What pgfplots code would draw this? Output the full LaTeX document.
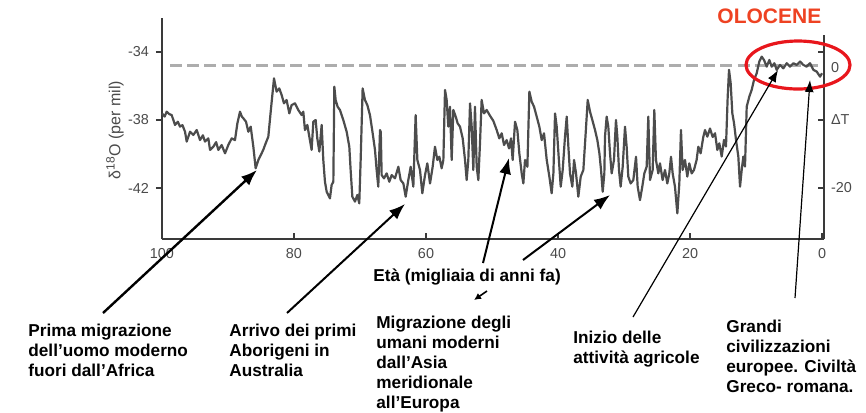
\documentclass[border=0pt]{standalone}
\usepackage{pgfplots}
\pgfplotsset{compat=1.18}
\usepackage{fontspec}
\setmainfont{Liberation Sans}
\usetikzlibrary{arrows.meta}
\definecolor{curve}{HTML}{4C4C4C}
\definecolor{axgray}{HTML}{3A3A3A}
\definecolor{tickgray}{HTML}{4A4A4A}
\definecolor{dashgray}{HTML}{ADADAD}
\definecolor{olored}{HTML}{EE4222}
\definecolor{ellred}{HTML}{E8161C}
\pgfplotstableread{
x y
100.0 -37.61
99.6 -37.80
99.29 -37.51
98.9 -37.65
98.53 -37.71
98.03 -38.29
97.6 -38.10
97.27 -38.39
96.9 -38.30
96.51 -38.69
96.26 -39.27
95.75 -38.69
95.25 -38.88
94.74 -38.59
94.24 -39.18
93.8 -38.90
93.48 -39.27
92.98 -39.08
92.72 -39.76
92.22 -39.57
91.8 -39.30
91.46 -39.76
90.96 -39.47
90.45 -39.96
89.95 -39.47
89.44 -39.08
88.94 -39.18
88.58 -38.20
88.18 -37.51
87.9 -37.80
87.67 -37.90
87.27 -38.10
86.92 -38.69
86.56 -38.39
86.16 -39.57
85.81 -40.84
85.40 -40.35
84.90 -39.96
84.6 -39.70
84.39 -39.47
83.89 -38.98
83.48 -37.31
83.03 -35.55
82.63 -36.33
82.23 -36.14
81.87 -36.53
81.52 -37.02
81.12 -36.82
80.71 -37.61
80.36 -37.12
79.85 -37.02
79.35 -37.41
78.84 -37.71
78.59 -37.51
78.34 -38.59
77.98 -38.29
77.68 -38.98
77.33 -39.76
77.07 -38.10
76.72 -38.00
76.47 -39.08
76.16 -39.86
75.81 -38.29
75.56 -40.35
75.31 -41.63
75.05 -42.22
74.80 -42.41
74.55 -42.61
74.30 -41.82
74.04 -41.63
73.89 -36.04
73.69 -36.82
73.39 -37.22
73.04 -37.41
72.53 -38.00
72.02 -38.69
71.62 -39.57
71.42 -40.94
71.16 -42.51
70.76 -42.80
70.41 -42.41
70.11 -42.90
69.90 -40.35
69.60 -36.14
69.25 -36.82
68.89 -37.12
68.49 -37.71
68.08 -38.78
67.73 -39.76
67.48 -40.94
67.23 -41.92
66.97 -38.59
66.85 -38.70
66.72 -41.24
66.36 -41.43
65.96 -41.14
65.56 -41.63
65.20 -41.24
64.70 -41.43
64.19 -40.75
63.84 -41.53
63.43 -41.73
63.08 -42.51
62.68 -41.53
62.32 -40.75
61.92 -41.92
61.57 -37.71
61.31 -40.35
60.91 -40.94
60.56 -42.31
60.15 -41.24
59.80 -40.55
59.39 -41.73
58.99 -40.75
58.64 -39.57
58.28 -40.35
57.98 -40.16
57.63 -40.84
57.37 -40.35
57.12 -36.23
56.87 -36.82
56.62 -38.39
56.36 -37.22
56.11 -40.35
55.86 -37.41
55.50 -37.80
55.20 -38.20
54.85 -38.39
54.44 -39.08
54.09 -40.35
53.84 -41.53
53.59 -40.35
53.33 -37.02
53.08 -38.39
52.83 -40.94
52.58 -37.22
52.32 -40.75
52.07 -41.53
51.82 -39.37
51.57 -36.82
51.21 -37.61
50.81 -37.41
50.30 -37.75
49.80 -38.05
49.29 -38.59
48.89 -39.08
48.53 -38.78
48.18 -39.47
47.78 -39.18
47.42 -39.67
47.12 -39.08
46.87 -40.35
46.51 -38.10
46.16 -38.59
45.86 -39.96
45.50 -41.14
45.25 -41.73
45.00 -40.35
44.64 -40.75
44.34 -36.33
43.99 -36.92
43.63 -37.22
43.23 -37.80
42.83 -38.39
42.47 -39.18
42.12 -38.78
41.71 -40.35
41.31 -41.33
40.96 -42.31
40.70 -41.14
40.45 -37.61
40.20 -38.39
39.90 -40.16
39.59 -41.92
39.29 -40.94
38.94 -38.98
38.68 -37.80
38.43 -39.57
38.18 -41.14
37.83 -41.92
37.57 -40.35
37.27 -41.14
36.92 -42.51
36.56 -41.33
36.16 -40.94
35.81 -38.78
35.50 -36.82
35.15 -37.51
34.80 -38.00
34.39 -38.59
34.04 -39.18
33.73 -39.96
33.48 -40.94
33.23 -42.22
32.98 -41.14
32.88 -38.98
32.63 -37.80
32.38 -38.39
32.12 -39.96
31.87 -41.14
31.52 -40.35
31.22 -38.00
31.01 -38.98
30.76 -40.94
30.51 -41.92
30.20 -40.75
29.85 -38.39
29.60 -39.57
29.35 -41.33
28.99 -41.73
28.59 -41.53
28.18 -40.16
27.93 -41.92
27.58 -42.71
27.23 -41.92
26.92 -41.14
26.57 -40.75
26.32 -37.80
26.06 -41.53
25.66 -40.94
25.41 -37.41
25.16 -40.35
24.80 -41.14
24.55 -40.55
24.15 -41.53
23.79 -40.94
23.44 -41.73
23.14 -41.14
22.88 -40.16
22.63 -41.14
22.28 -41.92
21.92 -43.49
21.62 -41.73
21.37 -38.59
21.12 -40.94
20.76 -40.35
20.41 -41.33
20.11 -40.55
19.75 -41.14
19.40 -40.94
19.00 -40.35
18.74 -39.57
18.39 -39.96
17.98 -38.98
17.73 -38.59
17.38 -38.98
16.97 -38.50
16.57 -39.00
16.21 -38.78
15.86 -39.76
15.56 -39.37
15.20 -40.15
14.85 -39.17
14.55 -39.56
14.29 -36.62
14.09 -35.05
13.84 -35.84
13.59 -37.60
13.33 -38.19
13.03 -39.17
12.68 -40.15
12.42 -41.92
12.17 -40.94
11.92 -40.15
11.67 -40.74
11.41 -37.21
11.01 -36.62
10.66 -36.23
10.30 -35.64
9.90 -35.25
9.50 -34.56
9.14 -34.27
8.79 -34.47
8.38 -34.86
7.98 -34.47
7.63 -34.86
7.22 -34.66
6.87 -35.05
6.36 -34.76
5.86 -34.96
5.35 -34.66
4.85 -34.86
4.34 -34.66
3.84 -34.76
3.33 -34.56
2.83 -34.76
2.32 -34.86
1.82 -34.66
1.31 -35.05
0.81 -35.15
0.30 -35.45
0.00 -35.25
}\deltaO
\begin{document}
\begin{tikzpicture}
\begin{scope}[x=0.5pt,y=-0.5pt]
\useasboundingbox (0,0) rectangle (866,409);
\end{scope}
% main axis
\begin{axis}[
  at={(81pt,-119.5pt)}, anchor=south west,
  scale only axis, width=331pt, height=110.5pt,
  x dir=reverse, xmin=-0.3, xmax=100, ymin=-45, ymax=-32,
  axis x line=bottom, axis y line=left,
  axis line style={-, draw=axgray, line width=0.8pt},
  xtick={100,80,60,40,20,0}, xticklabels={100,80,60,40,20,0},
  ytick={-34,-38,-42}, yticklabels={-34,-38,-42},
  xtick align=inside, ytick align=outside,
  major tick length=3pt,
  tick style={draw=axgray, line width=0.7pt},
  tick label style={font=\fontsize{7.2}{8}\selectfont, text=tickgray},
  xticklabel style={yshift=-1pt},
  ylabel={δ\textsuperscript{18}O (per mil)},
  ylabel style={at={(axis description cs:-0.071,0.493)}, anchor=center, rotate=0,
    font=\fontsize{8}{9}\selectfont, text=tickgray},
  clip=false,
]
\addplot[dashgray, line width=1.2pt, dash pattern=on 6pt off 2.6pt] coordinates {(98.8,-34.8) (0.5,-34.8)};
\addplot[curve, line width=1.1pt, line join=round] table[x=x,y=y] {\deltaO};
\end{axis}
% right axis
\begin{axis}[
  at={(81pt,-119.5pt)}, anchor=south west,
  scale only axis, width=331pt, height=102pt,
  x dir=reverse, xmin=-0.3, xmax=100, ymin=-45, ymax=-33,
  axis x line=none, axis y line=right,
  axis line style={-, draw=axgray, line width=0.8pt},
  ytick={-34,-38,-42}, yticklabels={,ΔT,-20},
  extra y ticks={-34.9}, extra y tick labels={0},
  extra y tick style={major tick length=0pt},
  ytick align=inside,
  major tick length=3pt,
  tick style={draw=axgray, line width=0.7pt},
  tick label style={font=\fontsize{7.2}{8}\selectfont, text=tickgray},
  yticklabel style={anchor=west, xshift=0pt},
]
\addplot[draw=none] coordinates {(50,-40)};
\end{axis}
\begin{scope}[x=0.5pt,y=-0.5pt]
\tikzset{ann/.style={anchor=north west, align=left, inner sep=0pt,
   font=\fontsize{8.6}{10}\selectfont\bfseries}}
\node[ann] at (28,324) {Prima migrazione\\dell’uomo moderno\\fuori dall’Africa};
\node[ann] at (229,324) {Arrivo dei primi\\Aborigeni in\\Australia};
\node[ann] at (376,316) {Migrazione degli\\umani moderni\\dall’Asia\\meridionale\\all’Europa};
\node[ann] at (573,331) {Inizio delle\\attività agricole};
\node[ann] at (726,320) {Grandi\\civilizzazioni\\europee. Civiltà\\Greco- romana.};
\node[ann] at (373,268) {Età (migliaia di anni fa)};
\node[anchor=north west, inner sep=0pt, text=olored, font=\fontsize{10.5}{12}\selectfont\bfseries] at (717,8) {OLOCENE};
\draw[ellred, line width=1.6pt] (798,65) ellipse [x radius=26pt, y radius=12pt];
\draw[black, line width=1.2pt, -{Latex[length=8pt,width=6pt]}] (103,313) -- (257,170);
\draw[black, line width=1.0pt, -{Latex[length=8pt,width=6pt]}] (287,313) -- (405,204);
\draw[black, line width=1.0pt, -{Latex[length=8pt,width=6pt]}] (483,263) -- (509,158);
\draw[black, line width=1.0pt, -{Latex[length=8pt,width=6pt]}] (523,260) -- (610,195);
\draw[black, line width=0.8pt, -{Latex[length=3.5pt,width=3.5pt]}] (487,291) -- (474,300);
\draw[black, line width=0.6pt, -{Latex[length=6pt,width=4.5pt]}] (633,317) -- (778,70);
\draw[black, line width=0.6pt, -{Latex[length=6pt,width=4.5pt]}] (795,298) -- (810,80);
\end{scope}
\end{tikzpicture}
\end{document}
